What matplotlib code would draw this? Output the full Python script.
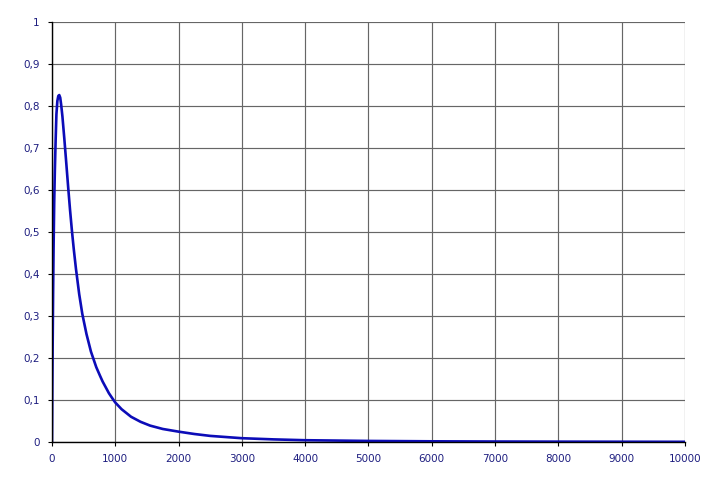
import matplotlib.pyplot as plt

# values
x = [0, 5, 10, 18, 25, 35, 45, 58, 70, 85, 100, 115, 130, 145, 165, 195, 220, 255,
     285, 315, 345, 379, 430, 479, 545, 616, 700, 758, 800, 900, 958, 1000, 1100, 1250,
     1400, 1550, 1750, 2000, 2250, 2500, 3000, 3500, 4000, 5000, 6000, 7000, 8000,
     9000, 10000]
y = [0, 0.12, 0.22, 0.36, 0.46, 0.57, 0.645, 0.72, 0.78, 0.812, 0.824, 0.826, 0.82,
     0.803, 0.775, 0.722, 0.675, 0.608, 0.553, 0.503, 0.458, 0.412, 0.352, 0.305,
     0.257, 0.215, 0.178, 0.158, 0.144, 0.116, 0.103, 0.094, 0.078, 0.06, 0.048, 0.039,
     0.031, 0.0246, 0.019, 0.0145, 0.009, 0.0062, 0.0042, 0.0025, 0.0016, 0.0011,
     0.0008, 0.0006, 0.0004]

xticks = [0, 1000, 2000, 3000, 4000, 5000, 6000, 7000, 8000, 9000, 10000]
yticks = [0, 0.1, 0.2, 0.3, 0.4, 0.5, 0.6, 0.7, 0.8, 0.9, 1]
ylabels = ["0", "0,1", "0,2", "0,3", "0,4", "0,5", "0,6", "0,7", "0,8", "0,9", "1"]

fig = plt.figure(figsize=(7.2, 4.8), dpi=100)
ax = fig.add_axes([0.0722, 0.0792, 0.879, 0.875])

ax.plot(x, y, color="#0c0cb8", lw=1.9, solid_joinstyle="round")

ax.set_xlim(0, 10000)
ax.set_ylim(0, 1)
ax.set_xticks(xticks)
ax.set_yticks(yticks)
ax.set_yticklabels(ylabels)
ax.grid(True, color="#666666", lw=0.85)
ax.set_axisbelow(True)

for s in ["top", "right"]:
    ax.spines[s].set_visible(False)
for s in ["left", "bottom"]:
    ax.spines[s].set_color("black")
    ax.spines[s].set_linewidth(1.0)

ax.tick_params(length=3, width=0.8, color="black", labelsize=7.5, labelcolor="#1e1e80", pad=6)

fig.savefig("out.png", dpi=100)
